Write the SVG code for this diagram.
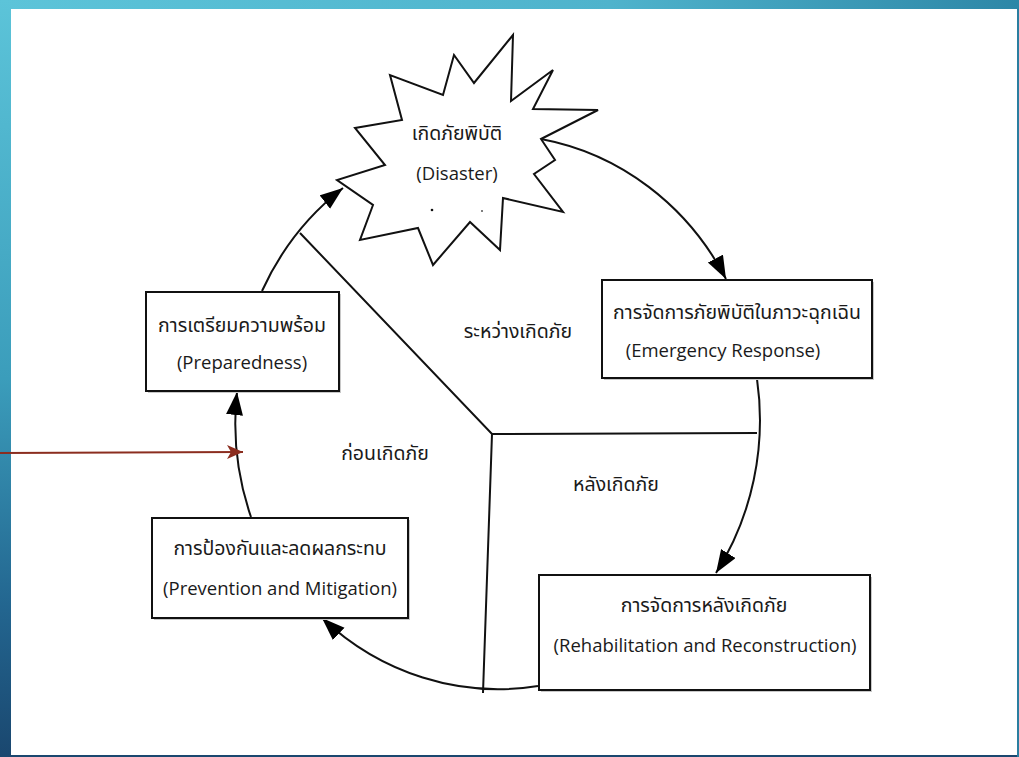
<svg xmlns="http://www.w3.org/2000/svg" width="1019" height="757" viewBox="0 0 1019 757">
<defs>
<linearGradient id="gTop" x1="0" y1="0" x2="1" y2="0">
<stop offset="0" stop-color="#5cc4d9"/><stop offset="0.6" stop-color="#4fb3cc"/><stop offset="1" stop-color="#2d87a7"/>
</linearGradient>
<linearGradient id="gLeft" x1="0" y1="0" x2="0" y2="1">
<stop offset="0" stop-color="#5cc4d9"/><stop offset="0.5" stop-color="#3b9dbb"/><stop offset="0.8" stop-color="#236690"/><stop offset="1" stop-color="#1a476f"/>
</linearGradient>
<marker id="ah" markerUnits="userSpaceOnUse" markerWidth="26" markerHeight="20" refX="23" refY="8.5" orient="auto">
<path d="M0,0 L23,8.5 L0,17 z" fill="#000"/>
</marker>
<marker id="ahr" markerUnits="userSpaceOnUse" markerWidth="18" markerHeight="16" refX="16" refY="7" orient="auto">
<path d="M0,0 L16,7 L0,14 L4,7 z" fill="#8b2d1f"/>
</marker>
<style>
.box{fill:#fff;stroke:#111;stroke-width:2}
.shadow{fill:#c8c8c8}
.t{font-family:"Noto Sans Thai","Leelawadee UI","Noto Sans","DejaVu Sans",sans-serif;font-size:19.5px;fill:#1a1a1a;text-anchor:middle}
.e{font-family:"Open Sans","Noto Sans","Liberation Sans",sans-serif;font-size:18.5px;fill:#1a1a1a;text-anchor:middle}
.line{fill:none;stroke:#111;stroke-width:2}
.arr{fill:none;stroke:#111;stroke-width:2;marker-end:url(#ah)}
</style>
</defs>
<g id="frame">
<rect x="0" y="0" width="1019" height="757" fill="#1a476f"/>
<rect x="0" y="0" width="1019" height="9" fill="url(#gTop)"/>
<rect x="0" y="0" width="11" height="757" fill="url(#gLeft)"/>
<rect x="1017" y="9" width="2" height="748" fill="#2a7ea0"/>
<rect x="11" y="9" width="1006" height="746" fill="#fff"/>
</g>
<g id="connectors">
<path class="line" d="M300,233 L492,434 L757,433 M492,434 L483,693"/>
<path class="arr" d="M541,139 A263,276 0 0 1 726,279"/>
<path class="arr" d="M757,379 A263,276 0 0 1 716,573"/>
<path class="arr" d="M538,686 A263,276 0 0 1 322,618"/>
<path class="arr" d="M251,517 A263,276 0 0 1 237,392"/>
<path class="arr" d="M262,291 A263,276 0 0 1 343,188"/>
<line x1="0" y1="453" x2="243" y2="452" stroke="#8b2d1f" stroke-width="2" marker-end="url(#ahr)"/>
</g>
<g id="disaster">
<polygon points="513,35 511,101 553,70 533,109 598,110 541,139 555,160 534,174 563,212 503,198 500,250 470,222 433,265 418,228 360,240 373,205 337,180 385,165 355,128 402,120 390,75 443,95 454,55 474,83" fill="#fff" stroke="#111" stroke-width="2" stroke-linejoin="miter"/>
<text class="t" x="457" y="140">เกิดภัยพิบัติ</text>
<text class="e" x="457" y="180">(Disaster)</text>
<circle cx="432" cy="210" r="1.3" fill="#111"/>
<circle cx="482" cy="211" r="1" fill="#555"/>
</g>
<g id="preparedness">
<rect class="shadow" x="148" y="294" width="193" height="99"/>
<rect class="box" x="146" y="292" width="193" height="99"/>
<text class="t" x="242" y="332">การเตรียมความพร้อม</text>
<text class="e" x="242" y="369">(Preparedness)</text>
</g>
<g id="prevention">
<rect class="shadow" x="154" y="520" width="256" height="100"/>
<rect class="box" x="152" y="518" width="256" height="100"/>
<text class="t" x="280" y="555">การป้องกันและลดผลกระทบ</text>
<text class="e" x="280" y="595">(Prevention and Mitigation)</text>
</g>
<g id="emergency">
<rect class="shadow" x="604" y="282" width="270" height="98"/>
<rect class="box" x="602" y="280" width="270" height="98"/>
<text class="t" x="737" y="319">การจัดการภัยพิบัติในภาวะฉุกเฉิน</text>
<text class="e" x="723" y="357">(Emergency Response)</text>
</g>
<g id="rehabilitation">
<rect class="shadow" x="541" y="577" width="331" height="115"/>
<rect class="box" x="539" y="575" width="331" height="115"/>
<text class="t" x="704" y="612">การจัดการหลังเกิดภัย</text>
<text class="e" x="705" y="652">(Rehabilitation and Reconstruction)</text>
</g>
<g id="labels">
<text class="t" x="518" y="338">ระหว่างเกิดภัย</text>
<text class="t" x="385" y="460">ก่อนเกิดภัย</text>
<text class="t" x="616" y="491">หลังเกิดภัย</text>
</g>
</svg>
